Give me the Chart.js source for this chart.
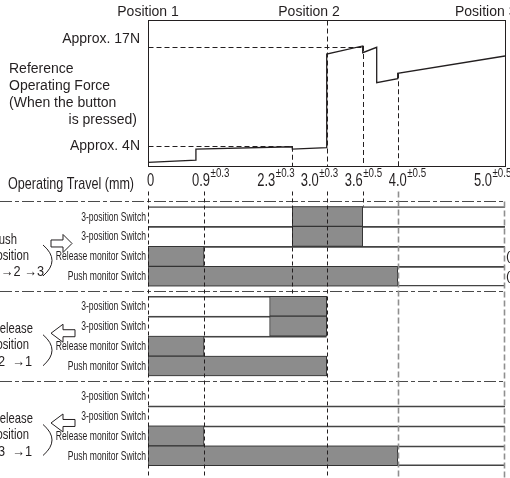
<!DOCTYPE html>
<html><head><meta charset="utf-8">
<script src="https://cdn.jsdelivr.net/npm/chart.js@4.4.1/dist/chart.umd.min.js"></script>
<style>html,body{margin:0;padding:0;background:#fff;}#wrap{position:relative;width:510px;height:478px;overflow:hidden;background:#fff;}canvas{display:block;}</style>
</head><body><div id="wrap"><canvas id="c" width="510" height="478"></canvas></div>
<script>
// ---------------- data ----------------
const travelTicks    = [0, 0.9, 2.3, 3.0, 3.6, 4.0, 5.0];
const tickLabels     = ['0', '0.9', '2.3', '3.0', '3.6', '4.0', '5.0'];
const tickTolerances = ['', '±0.3', '±0.3', '±0.3', '±0.5', '±0.5', '±0.5'];

const forceTravel = [0, 0.77, 0.77, 2.3, 2.3, 3.0, 3.0, 3.6, 3.6, 3.76, 3.76, 4.0, 4.0, 5.0];
const forceN      = [1.88, 2.18, 3.62, 3.92, 3.62, 3.79, 16.05, 17.1, 16.22, 16.93, 12.3, 12.82, 13.53, 15.79];

const forceRefLevels = [4, 17];
const forceRefLabels = ['Approx. 4N', 'Approx. 17N'];
const forceRefEnds   = [2.3, 3.6];
const forceDropMarks = [2.3, 3.0, 3.6, 4.0];

const positionLabels = ['Position 1', 'Position 2', 'Position 3'];
const positionAt     = [0, 2.64, 4.82];

const switchNames  = ['3-position Switch', '3-position Switch', 'Release monitor Switch', 'Push monitor Switch'];
const sectionNames = [['Push', 'Position', '1 →2 →3'], ['Release', 'Position', '2  →1'], ['Release', 'Position', '3  →1']];
const sectionArrow = ['right', 'left', 'left'];
const sectionRowEnd = [5.0, 3.0, 5.0];
const pushOn      = [[2.3, 3.6], [2.3, 3.6], [0, 0.9], [0, 4.0]];
const release21On = [[1.94, 3.0], [1.94, 3.0], [0, 0.9], [0, 3.0]];
const release31On = [null, null, [0, 0.9], [0, 4.0]];
const sectionOn = [pushOn, release21On, release31On];

// ---------------- layout (pixels / schematic spacing) ----------------
const W = 510, H = 478, PLOT_L = 148, PLOT_R = 505;
const TICK_FRACTIONS = [0, 0.1569, 0.4042, 0.5006, 0.6014, 0.6994, 1];
const AXIS_STOPS = travelTicks.map((t, i) => [t, TICK_FRACTIONS[i]]);
const FORCE_FRAME = [1.4, 20.5];
const FORCE_TOP_PX = 20, FORCE_BOTTOM_PX = 166;
const pxPerN = (FORCE_BOTTOM_PX - FORCE_TOP_PX) / (FORCE_FRAME[1] - FORCE_FRAME[0]);
const yFMax = FORCE_FRAME[1] + FORCE_TOP_PX / pxPerN;
const yFMin = yFMax - H / pxPerN;
const ROWS_TOP_PX = 205, ROW_H = 20.85;
const yRMin = -0.5 - ROWS_TOP_PX / ROW_H;
const yRMax = yRMin + H / ROW_H;
const SECTION_START = [0, 4.5, 9];
const SEPARATORS = [-0.75, 3.75, 8.25];
const TICK_DX = [-1, -12, -35, -26, -18, -9, -31];
const SECTION_LABEL_RIGHT = [[17, 29, 44], [33, 29, 32], [33, 29, 32]];

// ---------------- piecewise scale ----------------
class PiecewiseScale extends Chart.LinearScale {
  static id = 'piecewise';
  static defaults = Chart.LinearScale.defaults;
  _frac(v) {
    const s = AXIS_STOPS;
    if (v <= s[0][0]) return s[0][1];
    for (let i = 1; i < s.length; i++) {
      if (v <= s[i][0]) { const [v0, f0] = s[i - 1], [v1, f1] = s[i]; return f0 + (v - v0) / (v1 - v0) * (f1 - f0); }
    }
    return s[s.length - 1][1];
  }
  getPixelForValue(v) { return this.getPixelForDecimal(this._frac(v)); }
  getValueForPixel(p) {
    const d = this.getDecimalForPixel(p), s = AXIS_STOPS;
    for (let i = 1; i < s.length; i++) {
      if (d <= s[i][1]) { const [v0, f0] = s[i - 1], [v1, f1] = s[i]; return v0 + (d - f0) / (f1 - f0) * (v1 - v0); }
    }
    return s[s.length - 1][0];
  }
}
Chart.register(PiecewiseScale);

// ---------------- datasets ----------------
const rowY = (s, r) => SECTION_START[s] + r;
const rowData = [];
const onData = [];
sectionOn.forEach((arr, s) => arr.forEach((rng, r) => {
  rowData.push({ x: [0, sectionRowEnd[s]], y: rowY(s, r), s, r });
  if (rng) onData.push({ x: rng, y: rowY(s, r) });
}));

const INK = '#231f20';

function txt(c, s, x, y, o = {}) {
  const size = o.size || 14, sx = o.sx || 1;
  c.save();
  c.font = size + 'px "Liberation Sans", Arial, sans-serif';
  c.fillStyle = o.color || INK;
  c.textBaseline = o.base || 'alphabetic';
  c.textAlign = 'left';
  const w = c.measureText(s).width * sx;
  const left = o.align === 'right' ? x - w : o.align === 'center' ? x - w / 2 : x;
  c.translate(left, y); c.scale(sx, 1); c.fillText(s, 0, 0);
  c.restore();
  return w;
}

const diagram = {
  id: 'diagram',
  afterDatasetsDraw(chart) {
    const c = chart.ctx;
    const sx = chart.scales.x, sf = chart.scales.yF, sr = chart.scales.yR;
    const X = v => sx.getPixelForValue(v), F = v => sf.getPixelForValue(v), R = v => sr.getPixelForValue(v);
    const h = v => Math.round(v) + 0.5;
    function seg(x1, y1, x2, y2, color = INK, w = 1, dash = []) {
      c.save(); c.strokeStyle = color; c.lineWidth = w; c.setLineDash(dash);
      c.beginPath(); c.moveTo(x1, y1); c.lineTo(x2, y2); c.stroke(); c.restore();
    }
    // ---- force plot ----
    const L0 = h(X(0)), L1 = h(X(5)), T = h(F(FORCE_FRAME[1])), B = h(F(FORCE_FRAME[0]));
    forceRefLevels.forEach((lv, i) => { const y = h(F(lv)); seg(L0, y, X(forceRefEnds[i]), y, INK, 1, [5, 3]); });
    forceDropMarks.forEach(t => {
      const vals = forceN.filter((_, i) => forceTravel[i] === t);
      const top = t === 3.0 ? T : F(Math.max(...vals));
      seg(h(X(t)), top, h(X(t)), B, INK, 1, [5, 3]);
    });
    c.save(); c.strokeStyle = INK; c.lineWidth = 1; c.strokeRect(L0, T, L1 - L0, B - T); c.restore();

    txt(c, forceRefLabels[1], 140, F(17) - 3.5, { size: 14, align: 'right' });
    txt(c, forceRefLabels[0], 140, F(4) + 4, { size: 14, align: 'right' });
    txt(c, 'Reference', 9, 73, { size: 14 });
    txt(c, 'Operating Force', 9, 90, { size: 14 });
    txt(c, '(When the button', 9, 107, { size: 14 });
    txt(c, 'is pressed)', 137, 124, { size: 14, align: 'right' });
    positionLabels.forEach((p, i) => txt(c, p, X(positionAt[i]), 16, { size: 14, align: 'center' }));

    // tick labels
    const TB = 186;
    txt(c, 'Operating Travel (mm)', 8, 189, { size: 17, sx: 0.74 });
    travelTicks.forEach((t, i) => {
      const x0 = X(t) + TICK_DX[i];
      const w = txt(c, tickLabels[i], x0, TB, { size: 18, sx: 0.72 });
      if (tickTolerances[i]) txt(c, tickTolerances[i], x0 + w + 0.5, TB - 9, { size: 13, sx: 0.75 });
    });

    // ---- timing chart ----
    SEPARATORS.forEach(v => { const y = h(R(v)); seg(0, y, X(5), y, '#4a4a4a', 1.2, [12, 3, 4, 3]); });
    const vTop = R(SEPARATORS[0]) - 10, vEnd = H;
    const dark = [4, 3], grey = [6, 3];
    seg(h(X(0)), vTop, h(X(0)), vEnd, INK, 1, dark);
    seg(h(X(0.9)), vTop, h(X(0.9)), vEnd, INK, 1, dark);
    seg(h(X(2.3)), vTop, h(X(2.3)), R(SECTION_START[1] - 0.5), INK, 1, dark);
    seg(h(X(3.0)), vTop, h(X(3.0)), vEnd, INK, 1, dark);
    seg(h(X(3.6)), vTop, h(X(3.6)), R(SECTION_START[0] - 0.5), INK, 1, dark);
    seg(h(X(4.0)), vTop, h(X(4.0)), vEnd, '#8f8f8f', 1.6, grey);
    seg(X(5) - 0.5, R(SEPARATORS[0]), X(5) - 0.5, vEnd, '#8f8f8f', 1.6, grey);

    sectionNames.forEach((names, s) => {
      const top = R(SECTION_START[s] - 0.5);
      switchNames.forEach((n, r) => txt(c, n, 146, R(rowY(s, r)) + 0.5, { size: 13, sx: 0.66, align: 'right', base: 'middle' }));
      [33, 49, 65.5].forEach((dy, k) => txt(c, names[k], SECTION_LABEL_RIGHT[s][k], top + dy, { size: 15, sx: k === 2 ? 0.85 : 0.75, align: 'right', base: 'middle' }));
      const cy = top + 37;
      c.save(); c.strokeStyle = INK; c.fillStyle = '#fff'; c.lineWidth = 1; c.beginPath();
      if (sectionArrow[s] === 'right') {
        c.moveTo(51, cy - 3.5); c.lineTo(63, cy - 3.5); c.lineTo(63, cy - 9); c.lineTo(72, cy);
        c.lineTo(63, cy + 9); c.lineTo(63, cy + 3.5); c.lineTo(51, cy + 3.5);
      } else {
        c.moveTo(75, cy - 3.5); c.lineTo(63, cy - 3.5); c.lineTo(63, cy - 9); c.lineTo(51, cy);
        c.lineTo(63, cy + 9); c.lineTo(63, cy + 3.5); c.lineTo(75, cy + 3.5);
      }
      c.closePath(); c.fill(); c.stroke(); c.restore();
      const my = top + 54;
      c.save(); c.strokeStyle = INK; c.lineWidth = 1; c.beginPath();
      c.moveTo(43, my - 15.5); c.quadraticCurveTo(61, my, 43, my + 15.5); c.stroke(); c.restore();
    });
    [2, 3].forEach(r => txt(c, '(', 506, R(rowY(0, r)) + 0.5, { size: 13, base: 'middle' }));
  }
};

Chart.defaults.animation = false;
new Chart(document.getElementById('c'), {
  type: 'bar',
  data: {
    datasets: [
      {
        type: 'line', indexAxis: 'x', xAxisID: 'x', yAxisID: 'yF', order: 0,
        data: forceTravel.map((t, i) => ({ x: t, y: forceN[i] })),
        borderColor: INK, borderWidth: 1.3, pointRadius: 0, tension: 0, fill: false
      },
      {
        type: 'bar', indexAxis: 'y', xAxisID: 'x', yAxisID: 'yR', order: 1, grouped: false,
        data: onData, backgroundColor: '#8c8c8c', borderColor: '#333', borderWidth: 1, borderSkipped: false,
        barPercentage: 1, categoryPercentage: 1
      },
      {
        type: 'bar', indexAxis: 'y', xAxisID: 'x', yAxisID: 'yR', order: 2, grouped: false,
        data: rowData, backgroundColor: 'rgba(0,0,0,0)', borderColor: '#444', borderSkipped: false,
        borderWidth: ctx => {
          const d = ctx.raw || {};
          return { top: (d.s === 2 && d.r === 0) ? 0 : 1, bottom: d.r === 3 ? 1 : 0, left: 0, right: 0 };
        },
        barPercentage: 1, categoryPercentage: 1
      }
    ]
  },
  options: {
    responsive: false, animation: false, events: [],
    layout: { padding: { left: PLOT_L, right: W - PLOT_R, top: 0, bottom: 0 } },
    plugins: { legend: { display: false }, tooltip: { enabled: false } },
    scales: {
      x: { type: 'piecewise', min: 0, max: 5, display: false },
      yF: { type: 'linear', axis: 'y', min: yFMin, max: yFMax, display: false },
      yR: { type: 'linear', axis: 'y', reverse: true, min: yRMin, max: yRMax, display: false, ticks: { stepSize: 1 } }
    }
  },
  plugins: [diagram]
});
</script></body></html>
